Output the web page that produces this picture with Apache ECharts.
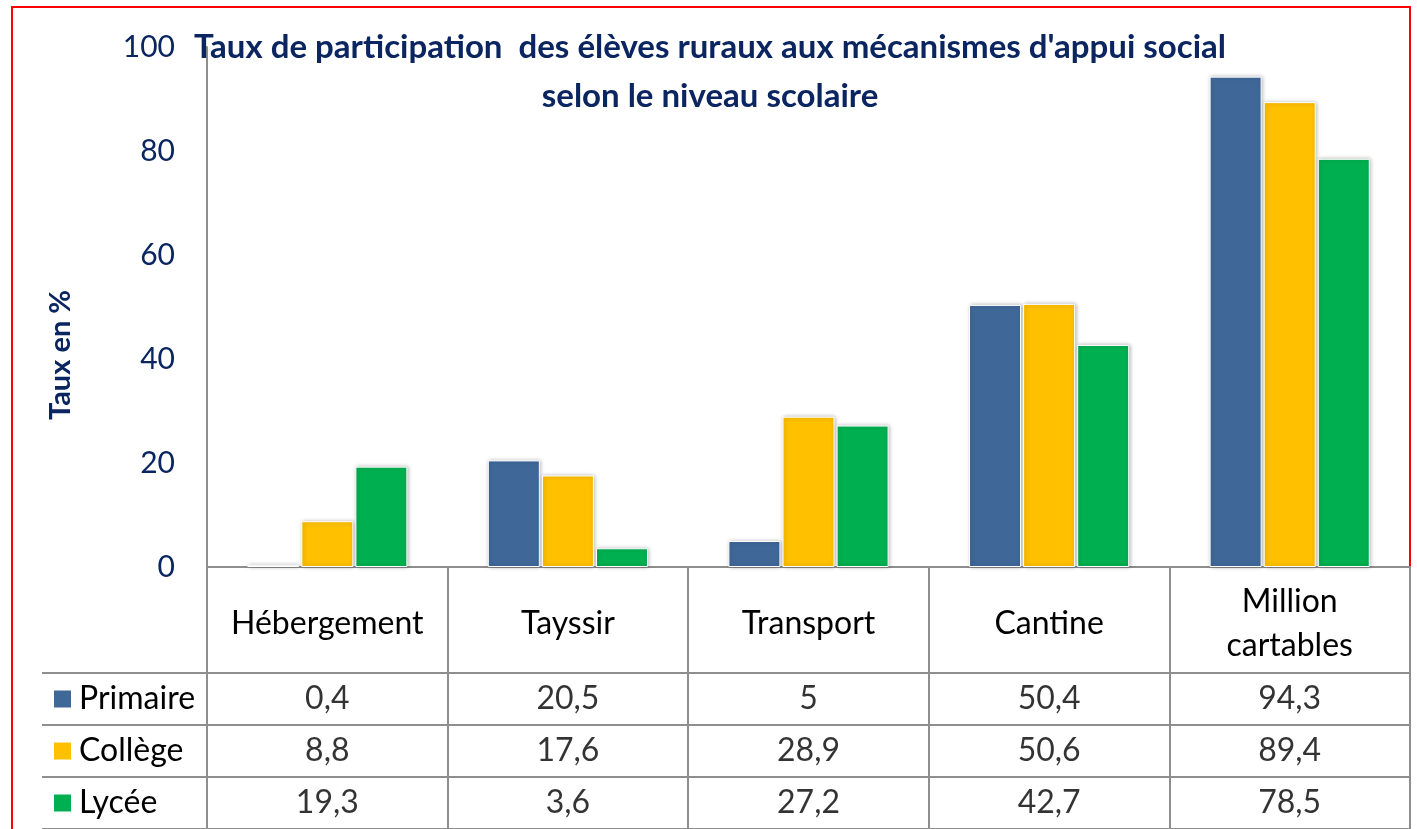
<!DOCTYPE html>
<html>
<head>
<meta charset="utf-8">
<script src="https://cdn.jsdelivr.net/npm/echarts@6/dist/echarts.min.js"></script>
<style>
  html, body { margin: 0; padding: 0; background: #fff; }
  #chart { width: 1417px; height: 829px; }
</style>
</head>
<body>
<div id="chart"></div>
<script>
const categories = ['Hébergement', 'Tayssir', 'Transport', 'Cantine', 'Million\ncartables'];
const seriesNames = ['Primaire', 'Collège', 'Lycée'];
const primaire = [0.4, 20.5, 5, 50.4, 94.3];
const college = [8.8, 17.6, 28.9, 50.6, 89.4];
const lycee = [19.3, 3.6, 27.2, 42.7, 78.5];
const yTicks = [0, 20, 40, 60, 80, 100];

const colors = ['#3F6899', '#FFC000', '#00B050'];
const values = [primaire, college, lycee];
const navy = '#0B2560';
const gridLine = { color: '#8e8e8e', width: 2 };
const font = 'Lato, "Open Sans", sans-serif';

const chart = echarts.init(document.getElementById('chart'));

// puces de couleur devant chaque ligne du tableau
const rich = { t: { fontSize: 32, color: '#000', fontFamily: font, padding: [0, 0, 0, 8] } };
seriesNames.forEach((n, i) => {
  rich['s' + i] = { width: 17, height: 17, backgroundColor: colors[i] };
});

const bars = values.map((vals, i) => ({
  name: seriesNames[i],
  type: 'bar',
  xAxisIndex: 0,
  yAxisIndex: 0,
  data: vals,
  barWidth: 52,
  barGap: '4%',
  itemStyle: {
    color: colors[i],
    borderColor: '#fff',
    borderWidth: 1,
    shadowBlur: 4,
    shadowColor: 'rgba(0,0,0,0.28)',
    shadowOffsetX: 1
  }
}));

const cells = values.map((vals, r) => ({
  type: 'scatter',
  xAxisIndex: 1,
  yAxisIndex: 1,
  symbolSize: 1,
  itemStyle: { color: 'rgba(0,0,0,0)' },
  data: vals.map((v, i) => [i, r, v]),
  label: {
    show: true,
    position: 'inside',
    fontSize: 32,
    fontFamily: font,
    color: '#000',
    formatter: p => String(p.value[2]).replace('.', ',')
  }
}));

const option = {
  animation: false,
  title: {
    text: "Taux de participation  des élèves ruraux aux mécanismes d'appui social\nselon le niveau scolaire",
    left: 710,
    top: 23,
    padding: 0,
    textAlign: 'center',
    textStyle: { fontSize: 33, fontWeight: 'bold', color: navy, fontFamily: font, lineHeight: 49 }
  },
  grid: [
    { left: 207, right: 7, top: 47, bottom: 262 },
    { left: 207, right: 7, top: 673, height: 163.5 }
  ],
  xAxis: [
    {
      type: 'category',
      gridIndex: 0,
      data: categories,
      axisLine: { lineStyle: gridLine },
      axisTick: { show: true, length: 106, interval: 0, lineStyle: gridLine },
      axisLabel: {
        interval: 0, margin: 57, verticalAlign: 'middle', lineHeight: 44,
        fontSize: 32, color: '#000', fontFamily: font
      }
    },
    {
      type: 'category',
      gridIndex: 1,
      position: 'top',
      data: categories,
      axisLine: { lineStyle: gridLine },
      axisTick: { show: false },
      axisLabel: { show: false },
      splitLine: { show: true, interval: 0, lineStyle: gridLine }
    }
  ],
  yAxis: [
    {
      type: 'value',
      gridIndex: 0,
      min: yTicks[0],
      max: yTicks[yTicks.length - 1],
      interval: 20,
      name: 'Taux en %',
      nameLocation: 'middle',
      nameRotate: 90,
      nameGap: 132,
      nameTextStyle: {
        fontSize: 29, fontWeight: 'bold', color: navy, fontFamily: font,
        padding: [0, 96, 0, 0]
      },
      axisLine: { show: true, lineStyle: gridLine },
      axisTick: { show: false },
      splitLine: { show: false },
      axisLabel: { margin: 32, fontSize: 30, color: navy, fontFamily: font }
    },
    {
      type: 'category',
      gridIndex: 1,
      inverse: true,
      data: seriesNames,
      axisLine: { show: true, lineStyle: gridLine },
      axisTick: { show: true, length: 165, interval: 0, lineStyle: gridLine },
      splitLine: { show: true, interval: 0, lineStyle: gridLine },
      axisLabel: {
        interval: 0, align: 'left', margin: 153,
        formatter: (v, i) => '{s' + i + '|}{t|' + v + '}',
        rich: rich
      }
    },
    {
      type: 'category',
      gridIndex: 1,
      inverse: true,
      data: seriesNames,
      offset: 165,
      axisLine: { show: true, lineStyle: gridLine },
      axisTick: { show: false },
      axisLabel: { show: false }
    }
  ],
  graphic: [{
    type: 'rect',
    shape: { x: 12, y: 7, width: 1398, height: 840 },
    style: { fill: 'none', stroke: '#ff0000', lineWidth: 2 },
    silent: true
  }],
  series: bars.concat(cells)
};

chart.setOption(option);
</script>
</body>
</html>
